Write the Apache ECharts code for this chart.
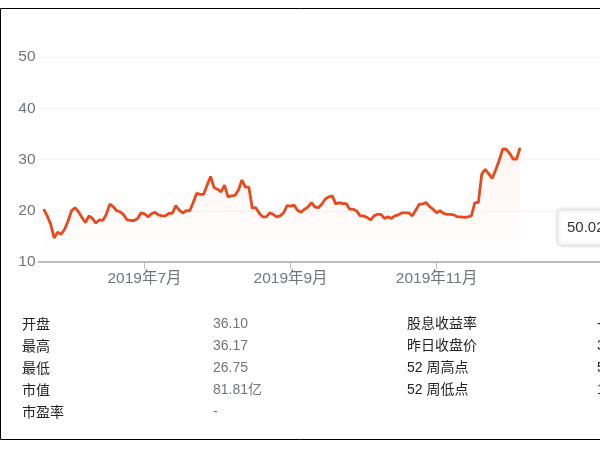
<!DOCTYPE html>
<html><head><meta charset="utf-8">
<script src="https://cdn.jsdelivr.net/npm/echarts@6/dist/echarts.min.js"></script>
<style>html,body{margin:0;padding:0;background:#fff}#c{width:600px;height:450px}</style>
</head><body><div id="c"></div>
<script>
const prices = [20.3,19.0,17.4,14.7,15.8,15.4,16.4,18.0,20.0,20.6,19.8,18.7,17.7,19.0,18.5,17.6,18.2,18.1,19.3,21.3,
20.8,20.0,19.8,19.2,18.2,18.1,18.1,18.5,19.6,19.4,18.8,19.4,19.7,19.2,19.0,19.0,19.5,19.5,21.0,20.1,
19.6,20.0,20.0,21.6,23.4,23.2,23.2,25.0,26.7,24.5,24.2,23.7,25.0,22.7,22.9,23.0,24.0,26.0,24.6,24.6,
20.5,20.6,19.5,18.8,18.8,19.6,19.3,18.8,19.0,19.6,21.0,20.9,21.1,20.1,19.7,20.3,20.7,21.6,20.7,20.6,
21.3,22.3,22.7,22.9,21.3,21.6,21.4,21.4,20.3,20.3,20.0,19.0,19.0,18.7,18.2,19.0,19.3,19.3,18.5,18.8,
18.5,19.0,19.2,19.6,19.6,19.6,19.0,20.1,21.3,21.3,21.6,20.8,20.3,19.6,20.0,19.5,19.3,19.3,19.2,18.8,
18.8,18.7,18.8,19.0,21.6,21.6,27.2,28.1,27.2,26.3,28.0,29.8,32.0,32.0,31.2,30.1,30.1,32.3];
const monthTickIndex = [29, 71, 113];
const monthTickLabels = ['2019年7月', '2019年9月', '2019年11月'];
const statLabelsL = ['开盘','最高','最低','市值','市盈率'];
const statValuesL = ['36.10','36.17','26.75','81.81亿','-'];
const statLabelsR = ['股息收益率','昨日收盘价','52 周高点','52 周低点'];
const statValuesR = ['-','36.10','50.02','14.70'];
const tooltipValue = '50.02';

const chart = echarts.init(document.getElementById('c'));
const graphics = [{type:'rect', shape:{x:0.5,y:8.5,width:700,height:431}, style:{fill:null,stroke:'#000',lineWidth:1}, z:10},
 {type:'rect', shape:{x:558,y:210,width:140,height:35,r:3}, style:{fill:'#fff',stroke:'#e6e6e6',shadowBlur:4,shadowColor:'rgba(0,0,0,0.2)'}, z:20},
 {type:'text', style:{x:567,y:228,text:tooltipValue,fill:'#333',font:'15px Arial',verticalAlign:'middle'}, z:21}];
const rowY = [324,346,368,390,412];
statLabelsL.forEach((t,i)=>{
  graphics.push({type:'text',style:{x:22,y:rowY[i],text:t,fill:'#222',font:'14px "Noto Sans CJK SC", Arial',verticalAlign:'middle'}});
  graphics.push({type:'text',style:{x:213,y:rowY[i],text:statValuesL[i],fill:'#70757a',font:'14px Arial, "Noto Sans CJK SC"',verticalAlign:'middle'}});
});
statLabelsR.forEach((t,i)=>{
  graphics.push({type:'text',style:{x:407,y:rowY[i],text:t,fill:'#222',font:'14px Arial, "Noto Sans CJK SC"',verticalAlign:'middle'}});
  graphics.push({type:'text',style:{x:597,y:rowY[i],text:statValuesR[i],fill:'#222',font:'14px Arial',verticalAlign:'middle'}});
});
chart.setOption({
  animation:false,
  grid:{left:38.5, top:57, width:673, height:205},
  xAxis:{type:'value', min:-1.5, max:160,
    axisLine:{lineStyle:{color:'#bdbdbd',width:2}},
    axisTick:{show:true, customValues:monthTickIndex, length:7, lineStyle:{color:'#bdbdbd'}},
    axisLabel:{customValues:monthTickIndex, color:'#70757a', fontSize:15.5, fontFamily:'Arial, "Noto Sans CJK SC"', margin:9,
      formatter:v=>monthTickLabels[monthTickIndex.indexOf(v)]},
    splitLine:{show:false}},
  yAxis:{type:'value', min:10, max:50, interval:10,
    axisLine:{show:false}, axisTick:{show:false},
    axisLabel:{color:'#70757a', fontSize:15.5, fontFamily:'Arial', margin:3},
    splitLine:{lineStyle:{color:'#f3f3f3'}}},
  series:[{type:'line', data:prices.map((v,i)=>[i,v]), symbol:'none',
    lineStyle:{color:'#e8491d', width:2.8},
    areaStyle:{origin:'start', color:new echarts.graphic.LinearGradient(0,0,0,1,[{offset:0,color:'rgba(232,73,29,0.08)'},{offset:1,color:'rgba(232,73,29,0)'}])}}],
  graphic:graphics
});
</script></body></html>
